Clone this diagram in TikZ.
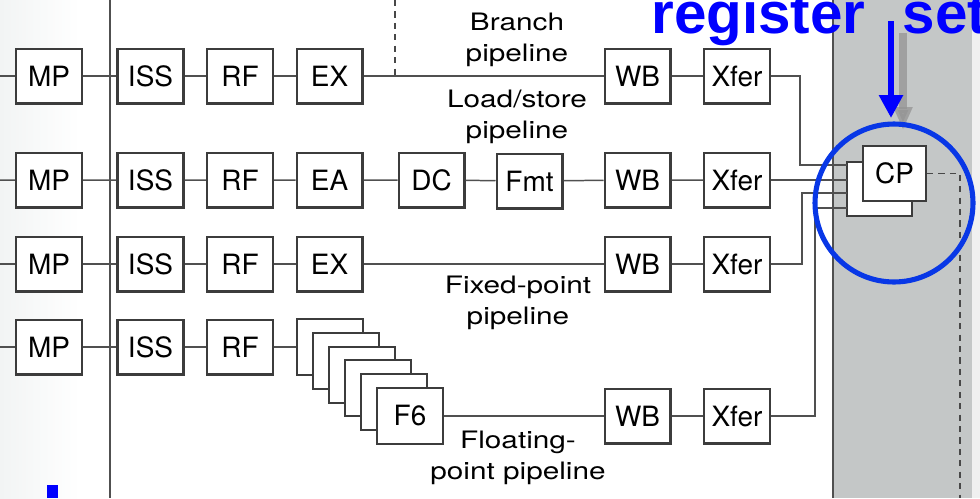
\documentclass[tikz,border=0pt]{standalone}
\usepackage{fontspec}
\setmainfont{TeX Gyre Heros}
\newfontfamily\regfont{Liberation Sans}
\usetikzlibrary{arrows.meta,calc}
\definecolor{boxline}{RGB}{60,60,60}
\definecolor{wirec}{RGB}{80,80,80}
\definecolor{panelc}{RGB}{196,199,199}
\definecolor{circc}{RGB}{8,55,230}
\definecolor{regblue}{RGB}{0,0,255}
\newcommand{\twolines}[2]{\scalebox{1.24}[1]{\begin{tabular}{@{}c@{}}#1\\#2\end{tabular}}}
\begin{document}
\begin{tikzpicture}[x=0.02cm, y=-0.02cm,
  stage/.style={draw=boxline, line width=1.15pt, fill=white, minimum width=1.32cm,
    minimum height=1.1cm, inner sep=0pt, font=\fontsize{15.9}{19}\selectfont},
  wire/.style={draw=wirec, line width=0.85pt},
  dashwire/.style={draw=wirec!90!black, line width=1pt, dash pattern=on 3.5pt off 3pt},
  lbl/.style={inner sep=0pt, font=\fontsize{13.66}{17.6}\selectfont}]
\useasboundingbox (0,0) rectangle (980,498);
\clip (0,0) rectangle (980,498);
% backgrounds
\shade[left color={rgb,255:red,242;green,244;blue,244}, right color=white] (0,0) rectangle (80,498);
\fill[panelc] (833,0) rectangle (972,498);
\fill[gray!12] (972,0) rectangle (980,498);
\draw[wirec, line width=0.8pt] (833,0) -- (833,498);
% vertical bus line
\coordinate (vt) at (110,0);
\coordinate (vb) at (110,498);
\draw[wire, line width=1.1pt] (vt) -- (vb);
% row coordinates at left edge
\coordinate (l1) at (0,76);
\coordinate (l2) at (0,180);
\coordinate (l3) at (0,264);
\coordinate (l4) at (0,347);
% row 1
\node[stage] (MP1) at (49,76) {MP};
\node[stage] (ISS1) at (150.5,76) {ISS};
\node[stage] (RF1) at (240,76) {RF};
\node[stage] (EX1) at (329.5,76) {EX};
\node[stage] (WB1) at (637.5,76) {WB};
\node[stage] (XF1) at (737,76) {Xfer};
% row 2
\node[stage] (MP2) at (49,180) {MP};
\node[stage] (ISS2) at (150.5,180) {ISS};
\node[stage] (RF2) at (240,180) {RF};
\node[stage] (EA) at (329.5,180) {EA};
\node[stage] (DC) at (431.5,180) {DC};
\node[stage] (Fmt) at (529.5,181) {Fmt};
\node[stage] (WB2) at (637.5,180) {WB};
\node[stage] (XF2) at (737,180) {Xfer};
% row 3
\node[stage] (MP3) at (49,264) {MP};
\node[stage] (ISS3) at (150.5,264) {ISS};
\node[stage] (RF3) at (240,264) {RF};
\node[stage] (EX3) at (329.5,264) {EX};
\node[stage] (WB3) at (637.5,264) {WB};
\node[stage] (XF3) at (737,264) {Xfer};
% row 4
\node[stage] (MP4) at (49,347) {MP};
\node[stage] (ISS4) at (150.5,347) {ISS};
\node[stage] (RF4) at (240,347) {RF};
\node[stage, minimum height=1.12cm] (F1) at (330,347) {};
\node[stage, minimum height=1.12cm] (F2) at (346,360.8) {};
\node[stage, minimum height=1.12cm] (F3) at (362,374.6) {};
\node[stage, minimum height=1.12cm] (F4) at (378,388.4) {};
\node[stage, minimum height=1.12cm] (F5) at (394,402.2) {};
\node[stage, minimum height=1.12cm] (F6) at (410,416) {F6};
\node[stage] (WB4) at (637.5,416) {WB};
\node[stage] (XF4) at (737,416) {Xfer};
% wires
\draw[wire] (l1) -- (MP1) -- (ISS1) -- (RF1) -- (EX1) -- (WB1) -- (XF1);
\draw[wire] (l2) -- (MP2) -- (ISS2) -- (RF2) -- (EA) -- (DC) -- (Fmt) -- (WB2) -- (XF2);
\draw[wire] (l3) -- (MP3) -- (ISS3) -- (RF3) -- (EX3) -- (WB3) -- (XF3);
\draw[wire] (l4) -- (MP4) -- (ISS4) -- (RF4) -- (F1);
\draw[wire] (F6) -- (WB4) -- (XF4);
\coordinate (dtop) at (395,0);
\draw[dashwire] (dtop) -- (dtop |- EX1.east);
% labels
\node[lbl] (lbB) at (517,40) {\twolines{Branch}{pipeline}};
\node[lbl] (lbL) at (517,117) {\twolines{Load/store}{pipeline}};
\node[lbl] (lbX) at (518,303) {\twolines{Fixed-point}{pipeline}};
\node[lbl] (lbF) at (518,458) {\twolines{Floating-}{point pipeline}};
% CP stack
\node[stage, minimum width=1.3cm, minimum height=1.08cm] (CPb) at (879.5,189) {};
\node[stage, minimum width=1.26cm, minimum height=1.1cm] (CP) at (894.5,173.5) {CP};
\coordinate (in1) at (847,165);
\coordinate (in2) at (847,180);
\coordinate (in3) at (847,193);
\coordinate (in4) at (847,208);
\draw[wire] (XF1.east) -- ++(29,0) |- (in1);
\draw[wire] (XF2.east) -- (in2);
\draw[wire] (XF3.east) -- ++(31,0) |- (in3);
\draw[wire] (XF4.east) -- ++(44,0) |- (in4);
\coordinate (dend) at (960,498);
\draw[dashwire] (CP.east) -| (dend);
% gray arrow
\coordinate (ga1) at (903,33);
\coordinate (ga2) at (903,130);
\draw[black!42, opacity=0.75, line width=4pt, -{Triangle[width=10pt,length=13pt]}] (ga1) -- (ga2);
% register set text
\node[anchor=base west, inner sep=0pt, text=regblue,
  font={\regfont\bfseries\fontsize{33.2}{38}\selectfont}] (reg) at (651,33) {register\hspace{0.64em}set};
% blue arrow
\coordinate (ba1) at (891,21);
\coordinate (ba2) at (891,118);
\draw[regblue, line width=3.8pt, -{Triangle[width=13pt,length=13pt]}] (ba1) -- (ba2);
% blue circle
\draw[circc, line width=2.9pt] (894,203) circle[radius=1.58cm];
% blue fragment bottom left
\fill[regblue] (47,485) rectangle (58,498);
\end{tikzpicture}
\end{document}
